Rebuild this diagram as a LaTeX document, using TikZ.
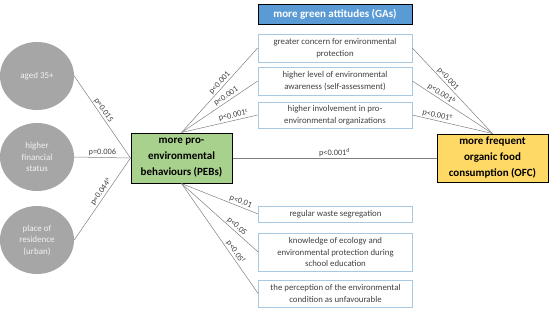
\documentclass[tikz,border=0pt]{standalone}
\usepackage{fontspec}
\setmainfont{Carlito}
\usetikzlibrary{shapes.geometric}
\definecolor{circfill}{HTML}{A6A6A6}
\definecolor{circtext}{HTML}{F2F2F2}
\definecolor{pebgreen}{HTML}{A9D18E}
\definecolor{ofcyellow}{HTML}{FFD966}
\definecolor{gablue}{HTML}{5B9BD5}
\definecolor{boxedge}{HTML}{A9C9E3}
\definecolor{txtgray}{HTML}{404040}
\definecolor{linegray}{HTML}{808080}
\tikzset{
  circnode/.style={ellipse, fill=circfill, minimum width=74pt, minimum height=68pt, inner sep=0pt,
    text=circtext, align=center, font=\fontsize{9}{11.5}\selectfont},
  mainbox/.style={rectangle, draw=black, line width=1pt, align=center, inner sep=0pt,
    font=\bfseries\fontsize{11}{16}\selectfont},
  itembox/.style={rectangle, draw=boxedge, line width=0.7pt, fill=white, minimum width=154pt, inner sep=0pt,
    align=center, text=txtgray, font=\fontsize{8.8}{11.5}\selectfont},
  conn/.style={draw=linegray, line width=0.5pt},
  plab/.style={sloped, above, inner sep=1.2pt, text=txtgray, font=\fontsize{8.3}{9}\selectfont}
}
\begin{document}
\begin{tikzpicture}[x=1pt,y=-1pt]
\useasboundingbox (0,0) rectangle (550,311);
% left circles
\node[circnode] (c1) at (37,76) {aged 35+};
\node[circnode] (c2) at (37,157) {higher\\financial\\status};
\node[circnode] (c3) at (37,240) {place of\\residence\\(urban)};
% main boxes
\node[mainbox, fill=pebgreen, minimum width=101pt, minimum height=50pt] (peb) at (181.5,158)
  {more pro-\\environmental\\behaviours (PEBs)};
\node[mainbox, fill=ofcyellow, minimum width=111pt, minimum height=48pt] (ofc) at (492.5,158)
  {more frequent\\organic food\\consumption (OFC)};
\node[mainbox, fill=gablue, text=white, minimum width=154pt, minimum height=20pt] (ga) at (335,14)
  {more green attitudes (GAs)};
% attitude boxes
\node[itembox, minimum height=28pt] (g1) at (335,48) {greater concern for environmental\\protection};
\node[itembox, minimum height=28pt] (g2) at (335,81) {higher level of environmental\\awareness (self-assessment)};
\node[itembox, minimum height=26pt] (g3) at (335,115) {higher involvement in pro-\\environmental organizations};
% behaviour boxes
\node[itembox, minimum height=16pt] (b1) at (335.5,214) {regular waste segregation};
\node[itembox, minimum height=38pt] (b2) at (335.5,252) {knowledge of ecology and\\environmental protection during\\school education};
\node[itembox, minimum height=27pt] (b3) at (335.5,293.5) {the perception of the environmental\\condition as unfavourable};
% connectors left
\draw[conn] (c1.east) -- node[plab, pos=0.45] {p=0.015} (peb.west);
\draw[conn] (c2.east) -- node[plab, pos=0.5] {p=0.006} (peb.west);
\draw[conn] (c3.east) -- node[plab, pos=0.55] {p=0.044\textsuperscript{a}} (peb.west);
% PEB to GAs
\draw[conn] (peb.north) -- node[plab, pos=0.55] {p<0.001} (g1.west);
\draw[conn] (peb.north) -- node[plab, pos=0.62] {p<0.001} (g2.west);
\draw[conn] (peb.north) -- node[plab, pos=0.7] {p<0.001\textsuperscript{c}} (g3.west);
% GAs to OFC
\draw[conn] (g1.east) -- node[plab, pos=0.4] {p<0.001} (ofc.north);
\draw[conn] (g2.east) -- node[plab, pos=0.33] {p<0.001\textsuperscript{b}} (ofc.north);
\draw[conn] (g3.east) -- node[plab, pos=0.3] {p<0.001\textsuperscript{e}} (ofc.north);
% PEB to OFC
\draw[conn] (peb.east) -- node[plab, pos=0.5] {p<0.001\textsuperscript{d}} (ofc.west);
% PEB to behaviours
\draw[conn] (peb.south) -- node[plab, pos=0.75] {p<0.01} (b1.west);
\draw[conn] (peb.south) -- node[plab, pos=0.68] {p<0.05} (b2.west);
\draw[conn] (peb.south) -- node[plab, pos=0.65] {p<0.05\textsuperscript{f}} (b3.west);
\end{tikzpicture}
\end{document}
